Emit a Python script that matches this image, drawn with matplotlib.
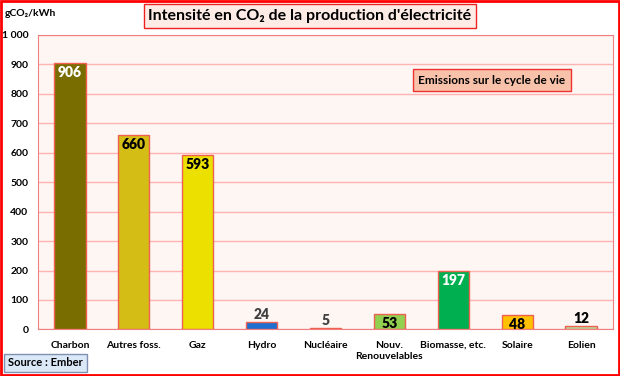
import matplotlib
matplotlib.use("Agg")
import matplotlib.pyplot as plt
from matplotlib.patches import Rectangle
from matplotlib.ticker import FuncFormatter

categories = ["Charbon", "Autres foss.", "Gaz", "Hydro", "Nucléaire",
              "Nouv.\nRenouvelables", "Biomasse, etc.", "Solaire", "Eolien"]
values = [906, 660, 593, 24, 5, 53, 197, 48, 12]
colors = ["#7a6d00", "#d4bd14", "#ebe000", "#1f6fd0", "#e8307f",
          "#92d050", "#00b050", "#ffc000", "#b5d99c"]
label_colors = ["white", "black", "black", "#404040", "#404040",
                "black", "white", "black", "black"]
label_inside = [True, True, True, False, False, True, True, True, False]

plt.rcParams['font.family'] = ['Lato', 'DejaVu Sans']
W, H = 620, 376
fig = plt.figure(figsize=(W/100, H/100), dpi=100)
ax = fig.add_axes([38/W, 1-329.4/H, (613-38)/W, (329.4-35)/H])
ax.set_facecolor("#fdf6f3")
x = range(len(categories))
ax.bar(x, values, width=0.49, color=colors, edgecolor="#f06050", linewidth=1, zorder=3)
ax.set_xlim(-0.5, len(categories)-0.5)
ax.set_ylim(0, 1000)
ax.set_yticks(range(0, 1001, 100))
ax.yaxis.set_major_formatter(FuncFormatter(lambda v, p: f"{int(v):,}".replace(",", " ")))
ax.grid(axis='y', color="#ffb3b3", linewidth=1, zorder=0)
ax.set_xticks(list(x))
ax.set_xticklabels(categories, fontsize=7.5, fontweight='bold', va='top', linespacing=1.3)
for lbl in ax.get_yticklabels():
    lbl.set_fontweight('bold')
    lbl.set_fontsize(7.5)
ax.tick_params(axis='y', length=0, pad=7)
ax.tick_params(axis='x', length=0, pad=8)
for s in ["top", "right", "left", "bottom"]:
    ax.spines[s].set_color("#f08080")

for i, (v, c, inside) in enumerate(zip(values, label_colors, label_inside)):
    if inside:
        ax.text(i, v - 10, str(v), ha='center', va='top', fontsize=10,
                fontweight='heavy', color=c, zorder=4)
    else:
        ax.text(i, v + 4, str(v), ha='center', va='bottom', fontsize=10,
                fontweight='heavy', color=c, zorder=4)

# outer border
fig.patches.append(Rectangle((1/W, 1/H), 1-2/W, 1-2/H, transform=fig.transFigure,
                             fill=False, edgecolor="#ff0000", linewidth=2))
# title
fig.text(310/W, 1-16/H, "Intensité en CO₂ de la production d'électricité",
         ha='center', va='center', fontsize=11.5, fontweight='bold',
         bbox=dict(boxstyle='square,pad=0.3', facecolor="#fdece6", edgecolor="#ee2020", linewidth=1))
# unit
fig.text(5/W, 1-13/H, "gCO₂/kWh", ha='left', va='center', fontsize=7.5, fontweight='bold')
# legend box
fig.text(492/W, 1-80/H, "Emissions sur le cycle de vie", ha='center', va='center',
         fontsize=8.5, fontweight='bold',
         bbox=dict(boxstyle='square,pad=0.45', facecolor="#f8c2aa", edgecolor="#ee3030", linewidth=1))
# source
fig.text(8/W, 1-363/H, "Source : Ember", ha='left', va='center', fontsize=8, fontweight='bold',
         bbox=dict(boxstyle='square,pad=0.35', facecolor="#dbe8f8", edgecolor="#8090b0", linewidth=1))

fig.savefig("out.png", dpi=100)
